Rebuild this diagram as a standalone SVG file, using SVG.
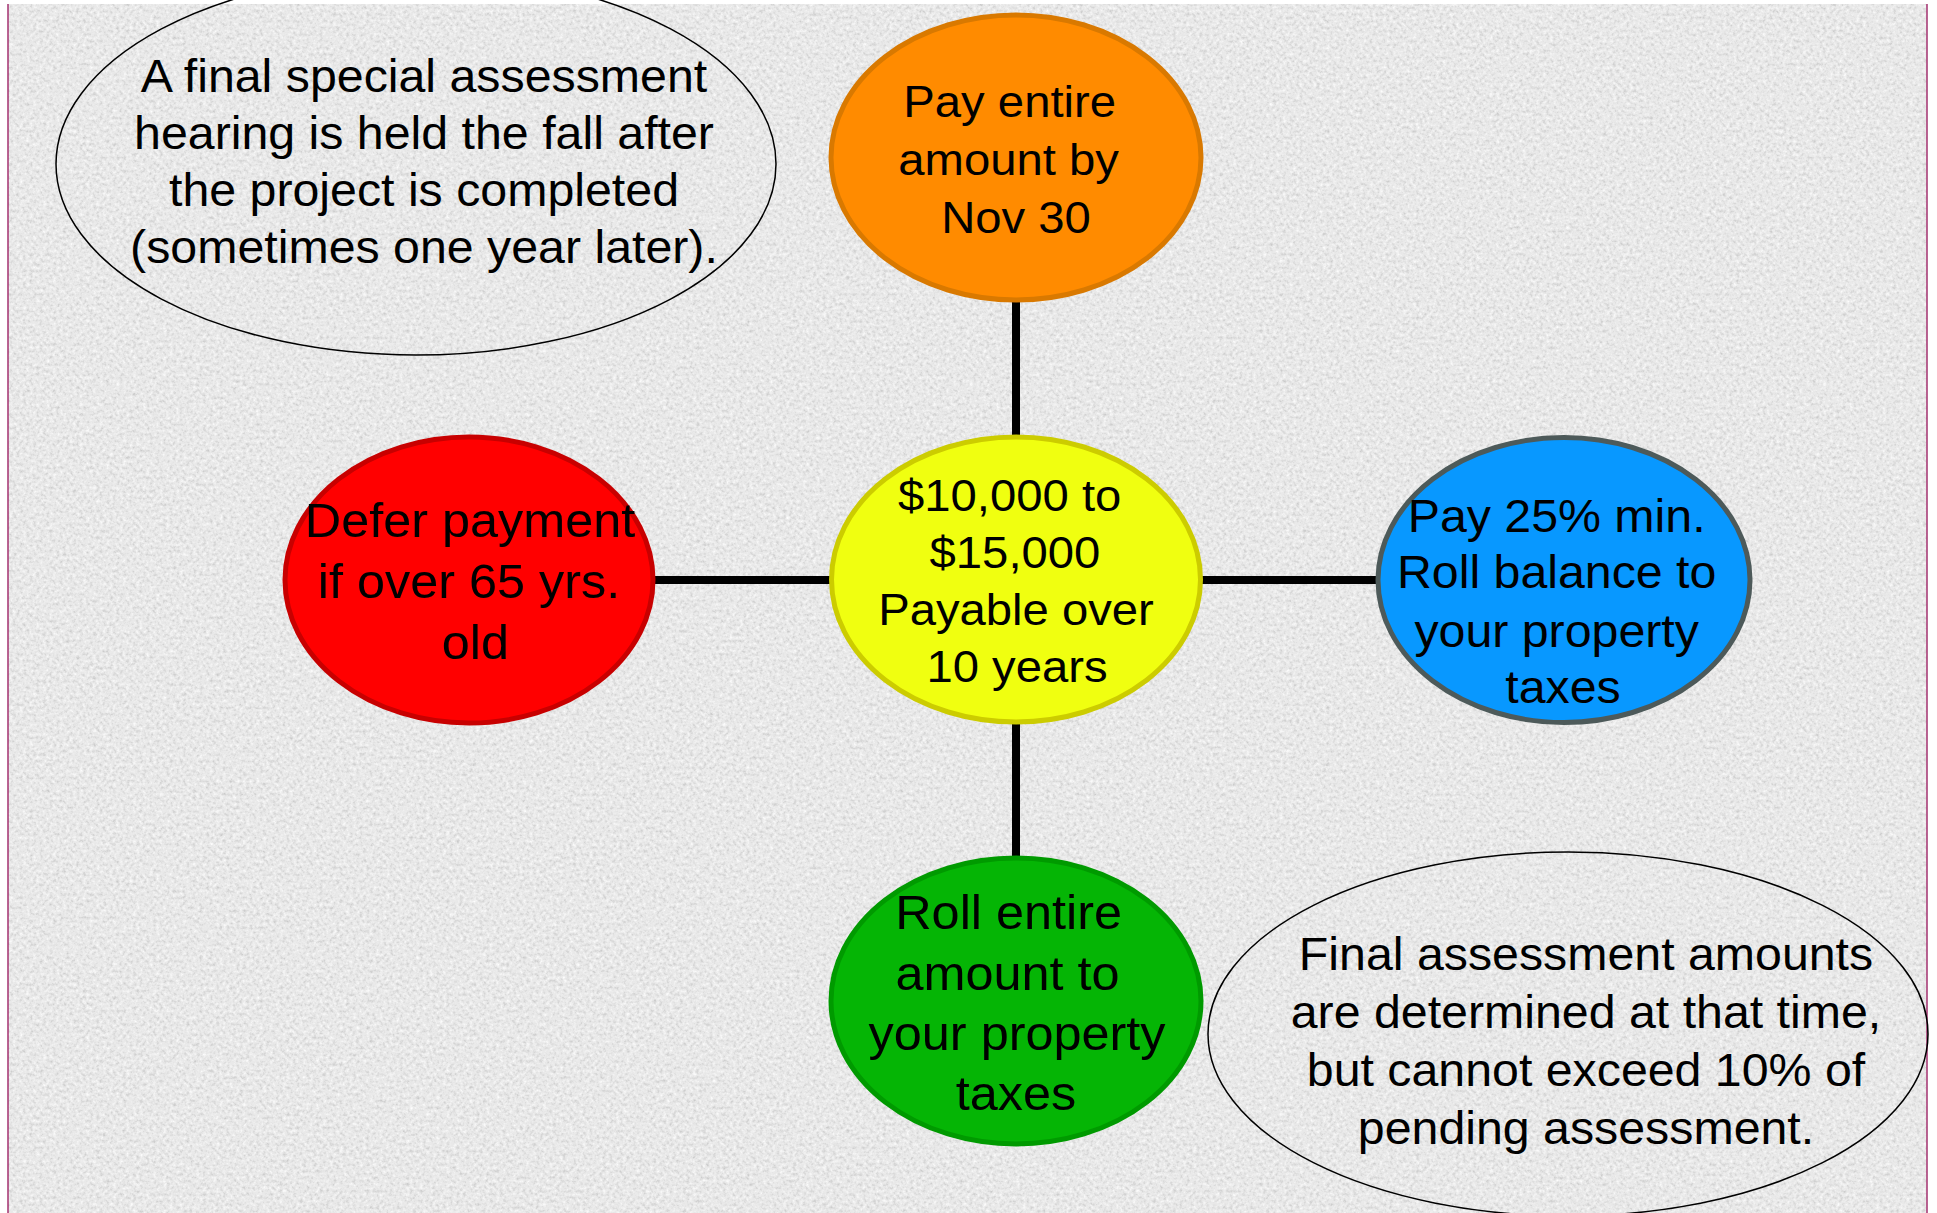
<svg xmlns="http://www.w3.org/2000/svg" width="1937" height="1213" viewBox="0 0 1937 1213">
  <defs>
    <!-- paper grain for the slide background -->
    <filter id="grain" filterUnits="userSpaceOnUse" x="8" y="4" width="1919" height="1209">
      <feTurbulence type="fractalNoise" baseFrequency="0.3" numOctaves="3" seed="7" result="n"/>
      <feColorMatrix in="n" type="matrix" values="0 0 0 0 0.6  0 0 0 0 0.6  0 0 0 0 0.6  -2.6 0 0 0 1.28" result="dark"/>
      <feColorMatrix in="n" type="matrix" values="0 0 0 0 1  0 0 0 0 1  0 0 0 0 1  2.4 0 0 0 -1.3" result="light"/>
      <feFlood flood-color="#e9e9e9" result="base"/>
      <feMerge>
        <feMergeNode in="base"/>
        <feMergeNode in="light"/>
        <feMergeNode in="dark"/>
      </feMerge>
    </filter>
    <style>
      .lbl { font-family: "Liberation Sans", Arial, sans-serif; fill: #000; text-anchor: middle; }
      .note { fill: none; stroke: #000; stroke-width: 1.5; }
      .link { stroke: #000; stroke-width: 8; fill: none; }
      .bubble { stroke-width: 5; }
    </style>
  </defs>

  <!-- page -->
  <rect x="0" y="0" width="1937" height="1213" fill="#ffffff"/>
  <rect x="8" y="4" width="1919" height="1209" filter="url(#grain)"/>
  <line x1="8" y1="4" x2="8" y2="1213" stroke="#a3306f" stroke-width="1.5"/>
  <line x1="1927" y1="4" x2="1927" y2="1213" stroke="#a3306f" stroke-width="1.5"/>

  <!-- connectors from the centre bubble -->
  <g id="connectors">
    <line class="link" x1="1016" y1="300" x2="1016" y2="437"/>
    <line class="link" x1="1016" y1="722" x2="1016" y2="858"/>
    <line class="link" x1="653" y1="580" x2="832" y2="580"/>
    <line class="link" x1="1200" y1="580" x2="1378" y2="580"/>
  </g>

  <!-- note: hearing -->
  <g id="note-hearing">
    <ellipse class="note" cx="416" cy="164" rx="360" ry="191"/>
    <g class="lbl" font-size="46" transform="translate(424 0) scale(1.05 1) translate(-424 0)">
      <text x="424" y="92">A final special assessment</text>
      <text x="424" y="149">hearing is held the fall after</text>
      <text x="424" y="206">the project is completed</text>
      <text x="424" y="263">(sometimes one year later).</text>
    </g>
  </g>

  <!-- pay in full -->
  <g id="node-pay-full">
    <ellipse class="bubble" cx="1016" cy="157.5" rx="185" ry="142.5" fill="#ff8b00" stroke="#d97900"/>
    <g class="lbl" font-size="45" transform="translate(1016 0) scale(1.05 1) translate(-1016 0)">
      <text x="1010" y="117">Pay entire</text>
      <text x="1009" y="175">amount by</text>
      <text x="1016" y="233">Nov 30</text>
    </g>
  </g>

  <!-- defer -->
  <g id="node-defer">
    <ellipse class="bubble" cx="469" cy="580" rx="184" ry="143" fill="#ff0000" stroke="#c80000"/>
    <g class="lbl" font-size="48" transform="translate(469 0) scale(1.05 1) translate(-469 0)">
      <text x="470" y="537">Defer payment</text>
      <text x="469" y="598">if over 65 yrs.</text>
      <text x="475" y="659">old</text>
    </g>
  </g>

  <!-- centre: amount -->
  <g id="node-amount">
    <ellipse class="bubble" cx="1016" cy="579.5" rx="184.5" ry="142.5" fill="#f0ff10" stroke="#cccc00"/>
    <g class="lbl" font-size="45" transform="translate(1016 0) scale(1.05 1) translate(-1016 0)">
      <text x="1010" y="511">$10,000 to</text>
      <text x="1015" y="568">$15,000</text>
      <text x="1016" y="625">Payable over</text>
      <text x="1017" y="682">10 years</text>
    </g>
  </g>

  <!-- pay 25% -->
  <g id="node-pay-part">
    <ellipse class="bubble" cx="1564" cy="580" rx="186" ry="142.5" fill="#0898ff" stroke="#4d5a5a"/>
    <g class="lbl" font-size="46" transform="translate(1564 0) scale(1.05 1) translate(-1564 0)">
      <text x="1557" y="532">Pay 25% min.</text>
      <text x="1557" y="588">Roll balance to</text>
      <text x="1557" y="647">your property</text>
      <text x="1563" y="703">taxes</text>
    </g>
  </g>

  <!-- roll to taxes -->
  <g id="node-roll">
    <ellipse class="bubble" cx="1016" cy="1001" rx="185" ry="143" fill="#05b505" stroke="#009a00"/>
    <g class="lbl" font-size="48" transform="translate(1016 0) scale(1.05 1) translate(-1016 0)">
      <text x="1009" y="929">Roll entire</text>
      <text x="1008" y="990">amount to</text>
      <text x="1017" y="1050">your property</text>
      <text x="1016" y="1110">taxes</text>
    </g>
  </g>

  <!-- note: final amounts -->
  <g id="note-final">
    <ellipse class="note" cx="1568" cy="1034" rx="360" ry="182"/>
    <g class="lbl" font-size="46" transform="translate(1586 0) scale(1.05 1) translate(-1586 0)">
      <text x="1586" y="970">Final assessment amounts</text>
      <text x="1586" y="1028">are determined at that time,</text>
      <text x="1586" y="1086">but cannot exceed 10% of</text>
      <text x="1586" y="1144">pending assessment.</text>
    </g>
  </g>
</svg>
